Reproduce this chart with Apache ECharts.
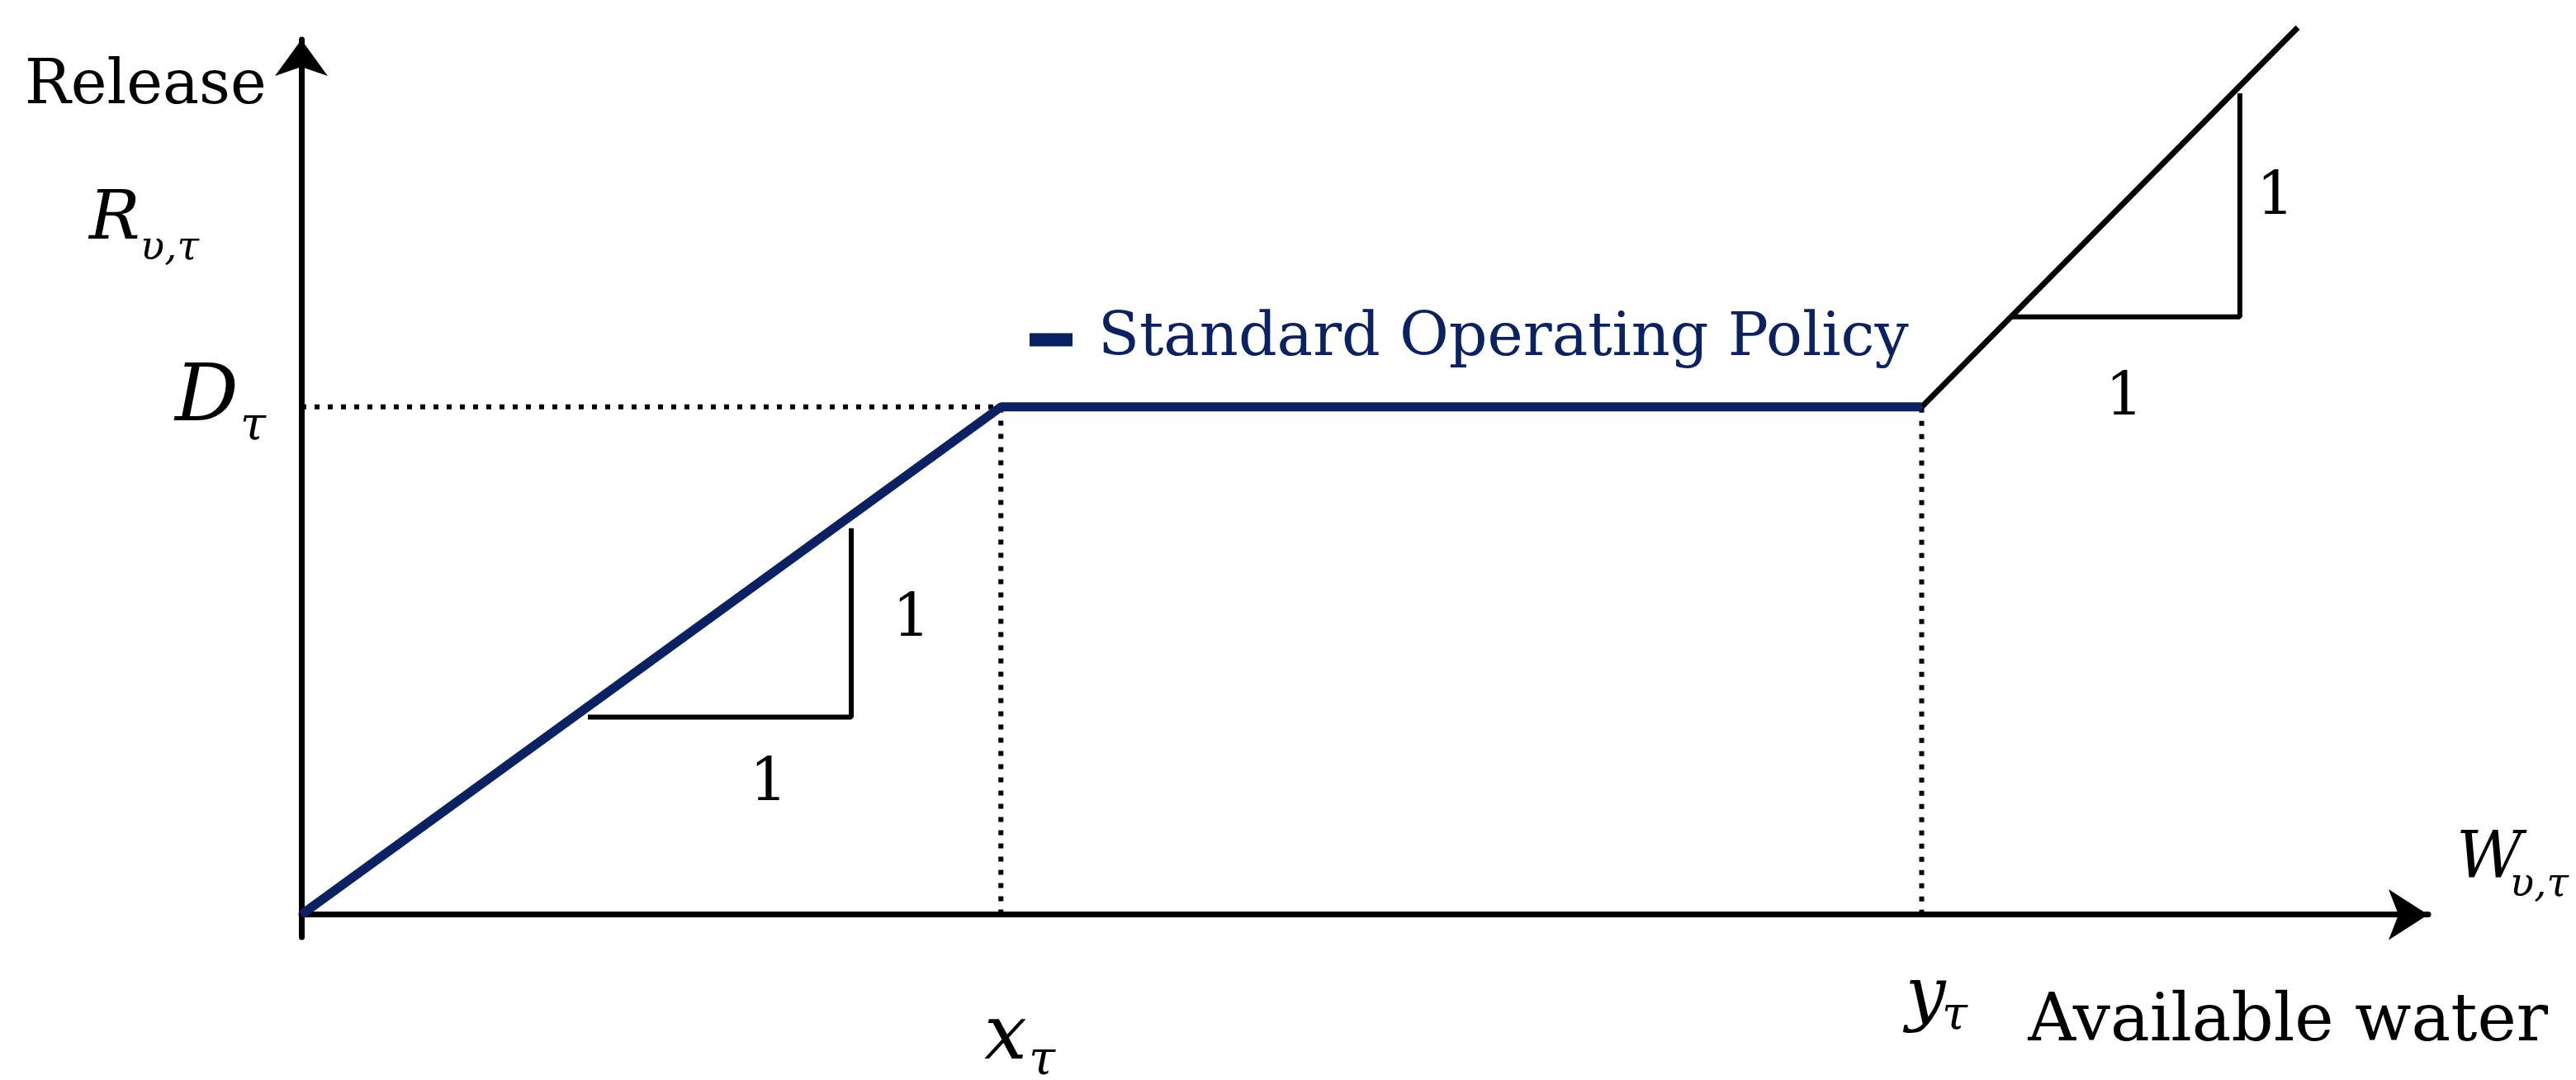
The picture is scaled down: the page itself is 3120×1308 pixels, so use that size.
<!DOCTYPE html>
<html>
<head>
<meta charset="utf-8">
<title>Standard Operating Policy</title>
<script src="https://cdn.jsdelivr.net/npm/echarts@6/dist/echarts.min.js"></script>
<style>
  html, body { margin: 0; padding: 0; background: #fff; }
  #chart { width: 3120px; height: 1308px; }
</style>
</head>
<body>
<div id="chart"></div>
<script>
// policy curve (available water -> release), values in chart units
const sopX = [0, 33.2, 76.9];
const sopY = [0, 58.6, 58.6];
const spillX = [76.9, 94.75];
const spillY = [58.6, 102.4];

// dotted guides at x_tau and y_tau
const guideX1 = [0, 33.2, 33.2];
const guideY1 = [58.6, 58.6, 0];
const guideX2 = [76.9, 76.9];
const guideY2 = [0, 58.6];

// slope triangles
const tri1X = [13.6, 26.1, 26.1];
const tri1Y = [22.8, 22.8, 44.6];
const tri2X = [81.2, 92.0, 92.0];
const tri2Y = [69.0, 69.0, 94.8];

const navy = '#0a2263';
const serif = '"DejaVu Serif", "Liberation Serif", serif';

const zip = (xs, ys) => xs.map((x, i) => [x, ys[i]]);

const chart = echarts.init(document.getElementById('chart'));

function txt(text, x, y, size, opts) {
  opts = opts || {};
  return {
    type: 'text',
    x: x,
    y: y,
    style: {
      text: text,
      font: (opts.italic ? 'italic ' : '') + size + 'px ' + serif,
      fill: opts.color || '#000',
      align: opts.align || 'left',
      verticalAlign: 'middle'
    }
  };
}

const dotted = { color: '#000', width: 6, type: [6, 10] };

const option = {
  backgroundColor: '#fff',
  animation: false,
  grid: { left: 365, right: 179, top: 48, bottom: 173 },
  legend: {
    data: ['Standard Operating Policy'],
    left: 1242,
    top: 370,
    icon: 'rect',
    itemWidth: 52,
    itemHeight: 16,
    textStyle: {
      color: navy,
      fontFamily: serif,
      fontSize: 73,
      padding: [0, 0, 0, 26]
    }
  },
  xAxis: {
    type: 'value',
    min: 0,
    max: 100.94,
    axisLine: {
      show: true,
      onZero: true,
      symbol: ['none', 'arrow'],
      symbolSize: [46, 48],
      lineStyle: { color: '#000', width: 7 }
    },
    axisTick: { show: false },
    axisLabel: { show: false },
    splitLine: { show: false }
  },
  yAxis: {
    type: 'value',
    min: -2.6,
    max: 101,
    axisLine: {
      show: true,
      symbol: ['none', 'arrow'],
      symbolSize: [48, 44],
      lineStyle: { color: '#000', width: 7 }
    },
    axisTick: { show: false },
    axisLabel: { show: false },
    splitLine: { show: false }
  },
  series: [
    {
      type: 'line',
      data: zip(guideX1, guideY1),
      symbol: 'none',
      lineStyle: dotted,
      z: 2
    },
    {
      type: 'line',
      data: zip(guideX2, guideY2),
      symbol: 'none',
      lineStyle: dotted,
      z: 2
    },
    {
      type: 'line',
      data: zip(tri1X, tri1Y),
      symbol: 'none',
      lineStyle: { color: '#000', width: 6 },
      z: 3
    },
    {
      type: 'line',
      data: zip(tri2X, tri2Y),
      symbol: 'none',
      lineStyle: { color: '#000', width: 6 },
      z: 3
    },
    {
      type: 'line',
      data: zip(spillX, spillY),
      symbol: 'none',
      clip: false,
      lineStyle: { color: '#000', width: 7 },
      z: 4
    },
    {
      name: 'Standard Operating Policy',
      type: 'line',
      data: zip(sopX, sopY),
      symbol: 'none',
      color: navy,
      lineStyle: { color: navy, width: 11 },
      z: 5
    }
  ],
  graphic: [
    txt('Release', 30, 106, 74),
    txt('R', 108, 268, 82, { italic: true }),
    txt('υ,τ', 170, 302, 48, { italic: true }),
    txt('D', 212, 484, 96, { italic: true }),
    txt('τ', 291, 517, 56, { italic: true }),
    txt('x', 1192, 1258, 92, { italic: true }),
    txt('τ', 1246, 1286, 58, { italic: true }),
    txt('y', 2308, 1210, 86, { italic: true }),
    txt('τ', 2352, 1231, 56, { italic: true }),
    txt('W', 2975, 1042, 78, { italic: true }),
    txt('υ,τ', 3040, 1073, 48, { italic: true }),
    txt('Available water', 3086, 1239, 80, { align: 'right' }),
    txt('1', 931, 951, 72, { align: 'center' }),
    txt('1', 1104, 752, 72, { align: 'center' }),
    txt('1', 2573, 484, 72, { align: 'center' }),
    txt('1', 2756, 241, 72, { align: 'center' })
  ]
};

chart.setOption(option);
</script>
</body>
</html>
